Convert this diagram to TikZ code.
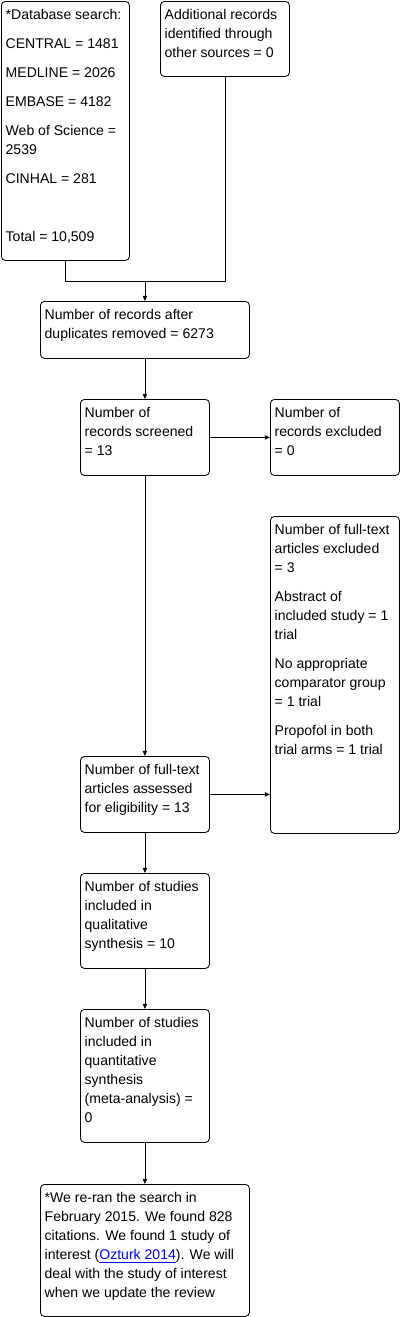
\documentclass[tikz,border=0pt]{standalone}
\usepackage{fontspec}
\setmainfont{Liberation Sans}
\usepackage{tikz}
\usetikzlibrary{arrows.meta}

\tikzset{
  box/.style 2 args={draw,line width=0.6pt,rounded corners=1mm,anchor=north west,inner sep=0pt,
    minimum width=#1*0.25mm,minimum height=#2*0.25mm},
  txt/.style={anchor=north west,inner sep=0pt,align=left,xshift=1.1mm,yshift=-2.1mm,
    font=\fontsize{10}{13.5}\selectfont},
  link/.style={line width=0.6pt},
}
\newcommand{\pgap}{\\[7.1pt]}
\newcommand{\reflink}[1]{\textcolor{blue}{\underline{#1}}}

\begin{document}
\begin{tikzpicture}[line cap=round,line join=round,>={Triangle[length=3.6pt,width=3pt]},x=0.25mm,y=-0.25mm]
\useasboundingbox (0,0) rectangle (402,1317);
% boxes
\node[box={128}{259}] (db) at (1,1) {};
\node[box={129}{75}] (add) at (160,1) {};
\node[box={209}{57}] (dup) at (40,301) {};
\node[box={129}{76}] (scr) at (80,399) {};
\node[box={129}{76}] (exc) at (270,399) {};
\node[box={129}{317}] (ftx) at (270,516) {};
\node[box={129}{76}] (ass) at (80,756) {};
\node[box={129}{95}] (qual) at (80,873) {};
\node[box={129}{133}] (quant) at (80,1009) {};
\node[box={209}{132}] (note) at (40,1184) {};
% texts
\node[txt] (dbt) at (db.north west) {*Database search:\pgap CENTRAL = 1481\pgap MEDLINE = 2026\pgap
  EMBASE = 4182\pgap Web of Science =\\ 2539\pgap CINHAL = 281\pgap ~\pgap Total = 10,509};
\node[txt] (addt) at (add.north west) {Additional records\\ identified through\\ other sources = 0};
\node[txt] (dupt) at (dup.north west) {Number of records after\\ duplicates removed = 6273};
\node[txt] (scrt) at (scr.north west) {Number of\\ records screened\\ = 13};
\node[txt] (exct) at (exc.north west) {Number of\\ records excluded\\ = 0};
\node[txt] (ftxt) at (ftx.north west) {Number of full-text\\ articles excluded\\ = 3\pgap
  Abstract of\\ included study = 1\\ trial\pgap No appropriate\\ comparator group\\ = 1 trial\pgap
  Propofol in both\\ trial arms = 1 trial};
\node[txt] (asst) at (ass.north west) {Number of full-text\\ articles assessed\\ for eligibility = 13};
\node[txt] (qualt) at (qual.north west) {Number of studies\\ included in\\ qualitative\\ synthesis = 10};
\node[txt] (quantt) at (quant.north west) {Number of studies\\ included in\\ quantitative\\ synthesis\\
  (meta-analysis) =\\ 0};
\node[txt] (notet) at (note.north west) {*We re-ran the search in\\ February 2015. We found 828\\
  citations. We found 1 study of\\ interest (\reflink{Ozturk 2014}). We will\\
  deal with the study of interest\\ when we update the review};
% connectors
\coordinate (join) at (dup.north |- 0,281);
\draw[link] (db.south) -- (db.south |- join) -- (add.south |- join) -- (add.south);
\draw[link,->] (join) -- (dup.north);
\draw[link,->] (dup.south) -- (scr.north);
\draw[link,->] (scr.east) -- (exc.west);
\draw[link,->] (scr.south) -- (ass.north);
\draw[link,->] (ass.east) -- (ass.east -| ftx.west);
\draw[link,->] (ass.south) -- (qual.north);
\draw[link,->] (qual.south) -- (quant.north);
\draw[link,->] (quant.south) -- (note.north);
\end{tikzpicture}
\end{document}
